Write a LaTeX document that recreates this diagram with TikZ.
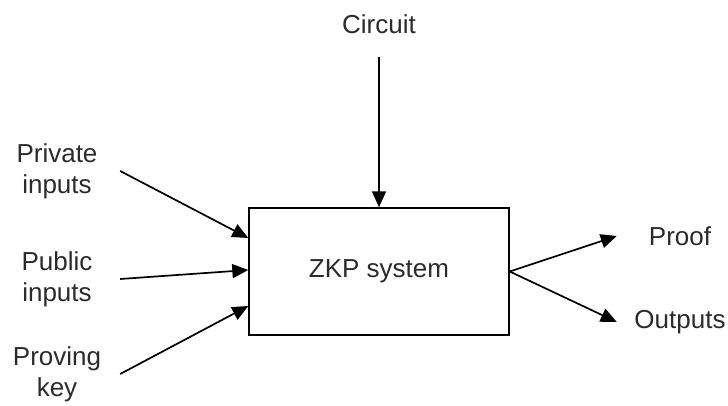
\documentclass[tikz,border=0pt]{standalone}
\usepackage{fontspec}
\setmainfont{Liberation Sans}
\usepackage{tikz}
\usetikzlibrary{arrows.meta,positioning}
\definecolor{InkGray}{HTML}{2B2B2B}
\tikzset{
  sysbox/.style={draw=black,line width=1.4pt,minimum width=260pt,minimum height=127pt,
                 font=\fontsize{26}{31}\selectfont,text=InkGray},
  lbl/.style={align=center,minimum width=126pt,inner sep=0pt,
              font=\fontsize{26}{31}\selectfont,text=InkGray},
  flow/.style={-{Triangle[length=16pt,width=14pt]},line width=1.7pt,draw=black}
}
\begin{document}
\begin{tikzpicture}[x=1pt,y=1pt,node distance=108pt,on grid]
  \useasboundingbox (0,0) rectangle (728,405);
  \node[sysbox] (zkp) at (379,133.5) {ZKP system};
  \node[lbl,minimum height=66pt,above=247.5pt of zkp] (circuit) {Circuit};
  \node[lbl,below left=7.5pt and 322pt of zkp] (pub) {Public\\inputs};
  \node[lbl,above=of pub] (priv) {Private\\inputs};
  \node[lbl,below=95pt of pub] (key) {Proving\\key};
  \node[lbl,above right=35.5pt and 301pt of zkp] (proof) {Proof};
  \node[lbl,below right=50.5pt and 301pt of zkp] (outputs) {Outputs};

  \draw[flow] (circuit) -- (zkp);
  \draw[flow] (priv.east) -- ([yshift=33.5pt]zkp.west);
  \draw[flow] (pub.east) -- ([yshift=1.5pt]zkp.west);
  \draw[flow] (key.east) -- ([yshift=-34.5pt]zkp.west);
  \draw[flow] (zkp.east) -- (proof.west);
  \draw[flow] (zkp.east) -- (outputs.west);
\end{tikzpicture}
\end{document}
